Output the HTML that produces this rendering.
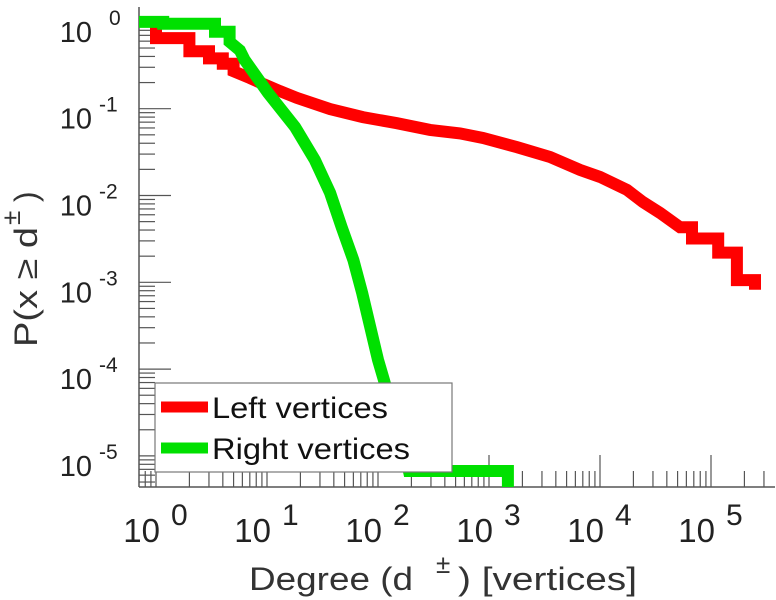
<!DOCTYPE html>
<html><head><meta charset="utf-8"><style>
html,body{margin:0;padding:0;background:#fff;}
svg{display:block;font-family:"Liberation Sans",sans-serif;}
</style></head><body>
<svg id="chart" width="776" height="600" viewBox="0 0 776 600"></svg>
<script>
const redDeg=[1,1,2,2,3,3,4,4,5,5,7,9.2,13,18.6,37,73,148,294,548,883,1790,3550,6600,10000,17500,24400,34700,52600,67400,67400,116000,116000,171000,171000,249000,249000];
const redP=[1,0.65,0.65,0.46,0.46,0.38,0.38,0.33,0.33,0.27,0.226,0.193,0.16,0.133,0.099,0.080,0.068,0.057,0.052,0.046,0.036,0.0278,0.0197,0.0164,0.0116,0.0084,0.0063,0.0043,0.0043,0.0032,0.0032,0.0022,0.0022,0.00106,0.00106,0.00082];
const greenDeg=[0.7,1.16,1.16,3.4,3.4,4.6,4.6,5.7,6.3,10.2,17.9,27,37,47,60,72,85,100,113,142,177,190,1480,1480];
const greenP=[1,1,0.95,0.95,0.77,0.77,0.59,0.47,0.364,0.152,0.0615,0.0256,0.0107,0.00434,0.0018,7.5e-4,3.06e-4,1.28e-4,7.5e-5,2.6e-5,1.0e-5,6.7e-6,6.7e-6,1e-6];
const xTickExp=[0,1,2,3,4,5];
const yTickExp=[0,-1,-2,-3,-4,-5];
const seriesNames=["Left vertices","Right vertices"];

const NS="http://www.w3.org/2000/svg";
const svg=document.getElementById('chart');
const L=139,R=775,T=7,B=487;
const X0=156,DX=111,Y0=21.9,DY=86.8;
const xLogMin=(L-X0)/DX, xLogMax=(R-X0)/DX;
const yLogMax=(Y0-T)/DY, yLogMin=-(B-Y0)/DY;
function sx(d){return X0+Math.log10(d)*DX;}
function sy(p){return Y0-Math.log10(p)*DY;}
function mk(tag,attrs,parent){const e=document.createElementNS(NS,tag);for(const k in attrs)e.setAttribute(k,attrs[k]);(parent||svg).appendChild(e);return e;}

const defs=mk('defs',{});
const cp=mk('clipPath',{id:'plotclip'},defs);
mk('rect',{x:L,y:T,width:R-L,height:B-T},cp);

// ticks
const axes=mk('g',{});


for(let e=-1;e<=6;e++){
  for(let m=1;m<=9;m++){
    const lv=e+Math.log10(m);
    if(lv<xLogMin||lv>xLogMax)continue;
    const x=X0+lv*DX;
    const len=m===1?32:16;
    const t=mk('line',{x1:x,y1:B,x2:x,y2:B-len,stroke:'#555','stroke-width':1.2},axes);
    
    
  }
}
for(let e=-6;e<=1;e++){
  for(let m=1;m<=9;m++){
    const lv=e+Math.log10(m);
    if(lv<yLogMin||lv>yLogMax)continue;
    const y=Y0-lv*DY;
    const len=m===1?32:16;
    const t=mk('line',{x1:L,y1:y,x2:L+len,y2:y,stroke:'#555','stroke-width':1.2},axes);
    
    
  }
}
const xa=mk('line',{x1:L,y1:B,x2:R,y2:B,stroke:'#555','stroke-width':1.5},axes);


const ya=mk('line',{x1:L,y1:T,x2:L,y2:B,stroke:'#555','stroke-width':1.5},axes);



// tick labels
xTickExp.forEach(e=>{
  const x=X0+e*DX;
  const t=mk('text',{x:x+4,y:542,'font-size':33,'text-anchor':'end',fill:'#222'});
  t.textContent='10';
  
  
  const s=mk('text',{x:x+15,y:525,'font-size':30,fill:'#222'});
  s.textContent=String(e);
  
  
});
yTickExp.forEach(e=>{
  const y=Y0-e*DY;
  const t=mk('text',{x:92,y:y+20,'font-size':29,'text-anchor':'end',fill:'#222'});
  t.textContent='10';
  
  
  const s=mk('text',{x:e<0?99:109,y:y+3,'font-size':21,fill:'#222'});
  s.textContent=String(e);
  
  
});

// series
function path(ds,ps){return ds.map((d,i)=>(i?'L':'M')+sx(d).toFixed(1)+' '+sy(ps[i]).toFixed(1)).join(' ');}
const plot=mk('g',{'clip-path':'url(#plotclip)'});


const rp=mk('path',{d:path(redDeg,redP),fill:'none',stroke:'#ff0000','stroke-width':12,'stroke-linejoin':'miter','stroke-linecap':'butt'},plot);


const gp=mk('path',{d:path(greenDeg,greenP),fill:'none',stroke:'#00e000','stroke-width':12,'stroke-linejoin':'miter','stroke-linecap':'butt'},plot);



// legend
const lg=mk('g',{});


mk('rect',{x:155,y:383,width:297,height:89,fill:'#fff',stroke:'#777','stroke-width':1.2},lg);
const colors=['#ff0000','#00e000'];
const legendLens=[176,198];
seriesNames.forEach((n,i)=>{
  const y=407+i*41;
  const ln=mk('line',{x1:161,y1:y,x2:208,y2:y,stroke:colors[i],'stroke-width':11},lg);
  
  
  const t=mk('text',{x:212,y:y+11,'font-size':30,fill:'#111',textLength:legendLens[i],lengthAdjust:'spacingAndGlyphs'},lg);
  t.textContent=n;
  
  
});

// axis titles
const xg=mk('g',{});


const x1=mk('text',{x:249,y:590,'font-size':32,fill:'#333',textLength:164,lengthAdjust:'spacingAndGlyphs'},xg);
x1.textContent='Degree (d';
const x2=mk('text',{x:436,y:573,'font-size':26,fill:'#333'},xg);
x2.textContent='±';
const x3=mk('text',{x:458,y:590,'font-size':32,fill:'#333',textLength:179,lengthAdjust:'spacingAndGlyphs'},xg);
x3.textContent=') [vertices]';

const yg=mk('g',{transform:'translate(37,347) rotate(-90)'});


const y1=mk('text',{x:0,y:0,'font-size':32,fill:'#333',textLength:120,lengthAdjust:'spacingAndGlyphs'},yg);
y1.textContent='P(x ≥ d';
const y2=mk('text',{x:122,y:-17,'font-size':26,fill:'#333'},yg);
y2.textContent='±';
const y3=mk('text',{x:145,y:0,'font-size':32,fill:'#333'},yg);
y3.textContent=')';
</script>
</body></html>
